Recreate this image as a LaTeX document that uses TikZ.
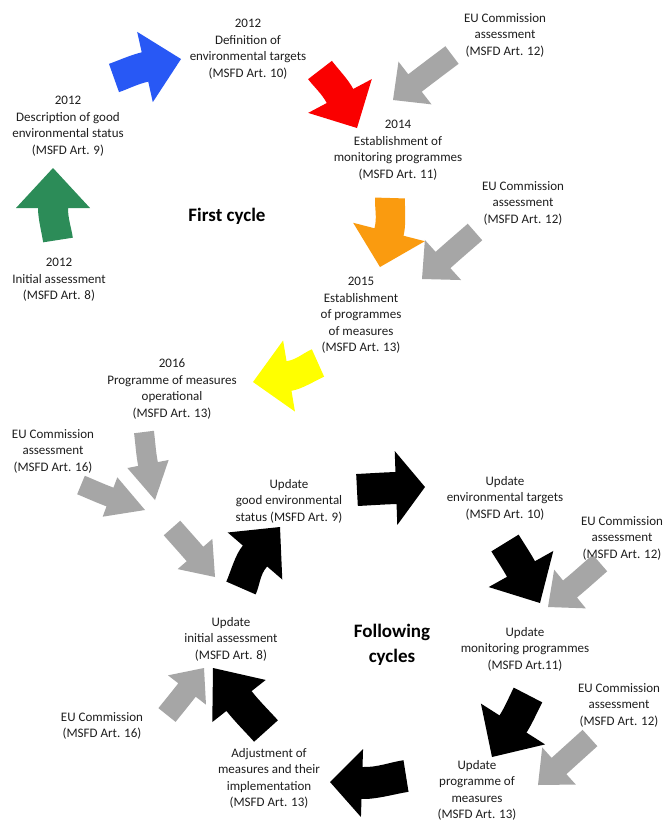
\documentclass[tikz,border=0pt]{standalone}
\usepackage{fontspec}
\setmainfont{Carlito}
\definecolor{agreen}{RGB}{44,140,88}
\definecolor{ablue}{RGB}{40,88,245}
\definecolor{ared}{RGB}{250,0,0}
\definecolor{aorange}{RGB}{250,155,15}
\definecolor{ayellow}{RGB}{255,255,0}
\definecolor{agray}{RGB}{166,166,166}
\definecolor{ablack}{RGB}{0,0,0}
\definecolor{txt}{RGB}{30,30,30}
% #1 colour, (#2,#3) tail centre, (#4,#5) head base centre, (#6,#7) tip, #8 head half-width, #9 shaft half-width
\newcommand\barrow[9]{%
 \pgfmathsetmacro\dxA{(#6)-(#4)}\pgfmathsetmacro\dyA{(#7)-(#5)}%
 \pgfmathsetmacro\hlA{veclen(\dxA,\dyA)}%
 \pgfmathsetmacro\uxA{(\dxA)/(\hlA)}\pgfmathsetmacro\uyA{(\dyA)/(\hlA)}%
 \pgfmathsetmacro\nxA{-1*(\uyA)}\pgfmathsetmacro\nyA{\uxA}%
 \pgfmathsetmacro\wxA{(#4)-(#2)}\pgfmathsetmacro\wyA{(#5)-(#3)}%
 \pgfmathsetmacro\slA{veclen(\wxA,\wyA)}%
 \pgfmathsetmacro\wxA{(\wxA)/(\slA)}\pgfmathsetmacro\wyA{(\wyA)/(\slA)}%
 \pgfmathsetmacro\mxA{-1*(\wyA)}\pgfmathsetmacro\myA{\wxA}%
 \pgfmathsetmacro\kA{(\slA)/3}%
 \pgfmathsetmacro\pxA{(#2)+(\kA)*(\wxA)}\pgfmathsetmacro\pyA{(#3)+(\kA)*(\wyA)}%
 \pgfmathsetmacro\rxA{(#4)-(\kA)*(\uxA)}\pgfmathsetmacro\ryA{(#5)-(\kA)*(\uyA)}%
 \pgfmathsetmacro\aX{(#2)-(#9)*(\mxA)}\pgfmathsetmacro\aY{(#3)-(#9)*(\myA)}%
 \pgfmathsetmacro\bX{(\pxA)-(#9)*(\mxA)}\pgfmathsetmacro\bY{(\pyA)-(#9)*(\myA)}%
 \pgfmathsetmacro\bbX{(\rxA)-(#9)*(\nxA)}\pgfmathsetmacro\bbY{(\ryA)-(#9)*(\nyA)}%
 \pgfmathsetmacro\cX{(#4)-(#9)*(\nxA)}\pgfmathsetmacro\cY{(#5)-(#9)*(\nyA)}%
 \pgfmathsetmacro\dX{(#4)-(#8)*(\nxA)}\pgfmathsetmacro\dY{(#5)-(#8)*(\nyA)}%
 \pgfmathsetmacro\eX{(#4)+(#8)*(\nxA)}\pgfmathsetmacro\eY{(#5)+(#8)*(\nyA)}%
 \pgfmathsetmacro\fX{(#4)+(#9)*(\nxA)}\pgfmathsetmacro\fY{(#5)+(#9)*(\nyA)}%
 \pgfmathsetmacro\ggX{(\rxA)+(#9)*(\nxA)}\pgfmathsetmacro\ggY{(\ryA)+(#9)*(\nyA)}%
 \pgfmathsetmacro\gX{(\pxA)+(#9)*(\mxA)}\pgfmathsetmacro\gY{(\pyA)+(#9)*(\myA)}%
 \pgfmathsetmacro\hX{(#2)+(#9)*(\mxA)}\pgfmathsetmacro\hY{(#3)+(#9)*(\myA)}%
 \fill[#1] (\aX,\aY) .. controls (\bX,\bY) and (\bbX,\bbY) .. (\cX,\cY) -- (\dX,\dY) -- (#6,#7)
   -- (\eX,\eY) -- (\fX,\fY) .. controls (\ggX,\ggY) and (\gX,\gY) .. (\hX,\hY) -- cycle;
}
\tikzset{
  lbl/.style={align=center, anchor=north, inner sep=0pt, text=txt,
    font=\fontsize{13}{16.5}\selectfont},
  title/.style={align=center, anchor=north, inner sep=0pt, text=black,
    font=\fontsize{19}{25}\selectfont\bfseries},
}
\begin{document}
\begin{tikzpicture}[x=1pt,y=-1pt]
\useasboundingbox[fill=white] (0,0) rectangle (664,823);
% first cycle arrows
\barrow{agreen}{58}{240}{53}{208}{53}{168}{37}{15}
\barrow{ablue}{114}{78}{145}{67}{181}{59}{36}{15}
\barrow{ared}{320}{70}{340}{96}{357}{128}{36}{15}
\barrow{agray}{452}{55}{415}{83}{393}{100}{27}{11}
\barrow{aorange}{390}{198}{389}{232}{380}{267}{37}{15}
\barrow{agray}{475}{232}{443}{260}{422}{279}{27}{11}
\barrow{ayellow}{318}{363}{289}{376}{253}{382}{36}{15}
\barrow{agray}{144}{432}{148}{464}{155}{500}{21}{10}
\barrow{agray}{81}{485}{110}{497}{145}{510}{21}{10}
\barrow{agray}{172}{528}{195}{554}{215}{577}{23}{11}
% following cycles
\barrow{ablack}{241}{588}{255}{556}{280}{527}{36}{16}
\barrow{ablack}{357}{490}{396}{488}{425}{487}{37}{16}
\barrow{ablack}{505}{543}{521}{569}{540}{603}{37}{16}
\barrow{agray}{600}{563}{570}{589}{548}{607}{25}{11}
\barrow{ablack}{528}{695}{513}{724}{492}{757}{38}{16}
\barrow{agray}{590}{738}{559}{766}{538}{785}{25}{11}
\barrow{ablack}{406}{776}{362}{783}{330}{782}{34}{16}
\barrow{ablack}{266}{731}{239}{701}{213}{668}{34}{16}
\barrow{agray}{167}{715}{187}{690}{204}{668}{24}{11}
% labels
\node[lbl] (t1) at (248,19) {2012\\Definition of\\environmental targets\\(MSFD Art. 10)};
\node[lbl] (t2) at (68,96) {2012\\Description of good\\environmental status\\(MSFD Art. 9)};
\node[lbl] (t3) at (59,258) {2012\\Initial assessment\\(MSFD Art. 8)};
\node[lbl] (t4) at (398,120) {2014\\Establishment of\\monitoring programmes\\(MSFD Art. 11)};
\node[lbl] (t5) at (505,13) {EU Commission\\assessment\\(MSFD Art. 12)};
\node[title] (t6) at (227,208) {First cycle};
\node[lbl] (t7) at (523,181) {EU Commission\\assessment\\(MSFD Art. 12)};
\node[lbl] (t8) at (361,277) {2015\\Establishment\\of programmes\\of measures\\(MSFD Art. 13)};
\node[lbl] (t9) at (172,359) {2016\\Programme of measures\\operational\\(MSFD Art. 13)};
\node[lbl] (t10) at (53,429) {EU Commission\\assessment\\(MSFD Art. 16)};
\node[lbl] (t11) at (289,479) {Update\\good environmental\\status (MSFD Art. 9)};
\node[lbl] (t12) at (505,476) {Update\\environmental targets\\(MSFD Art. 10)};
\node[lbl] (t13) at (622,516) {EU Commission\\assessment\\(MSFD Art. 12)};
\node[lbl] (t14) at (231,617) {Update\\initial assessment\\(MSFD Art. 8)};
\node[title] (t15) at (392,624) {Following\\cycles};
\node[lbl] (t16) at (525,627) {Update\\monitoring programmes\\(MSFD Art.11)};
\node[lbl] (t17) at (619,683) {EU Commission\\assessment\\(MSFD Art. 12)};
\node[lbl] (t18) at (102,712) {EU Commission\\(MSFD Art. 16)};
\node[lbl] (t19) at (269,748) {Adjustment of\\measures and their\\implementation\\(MSFD Art. 13)};
\node[lbl] (t20) at (477,760) {Update\\programme of\\measures\\(MSFD Art. 13)};
\end{tikzpicture}
\end{document}
